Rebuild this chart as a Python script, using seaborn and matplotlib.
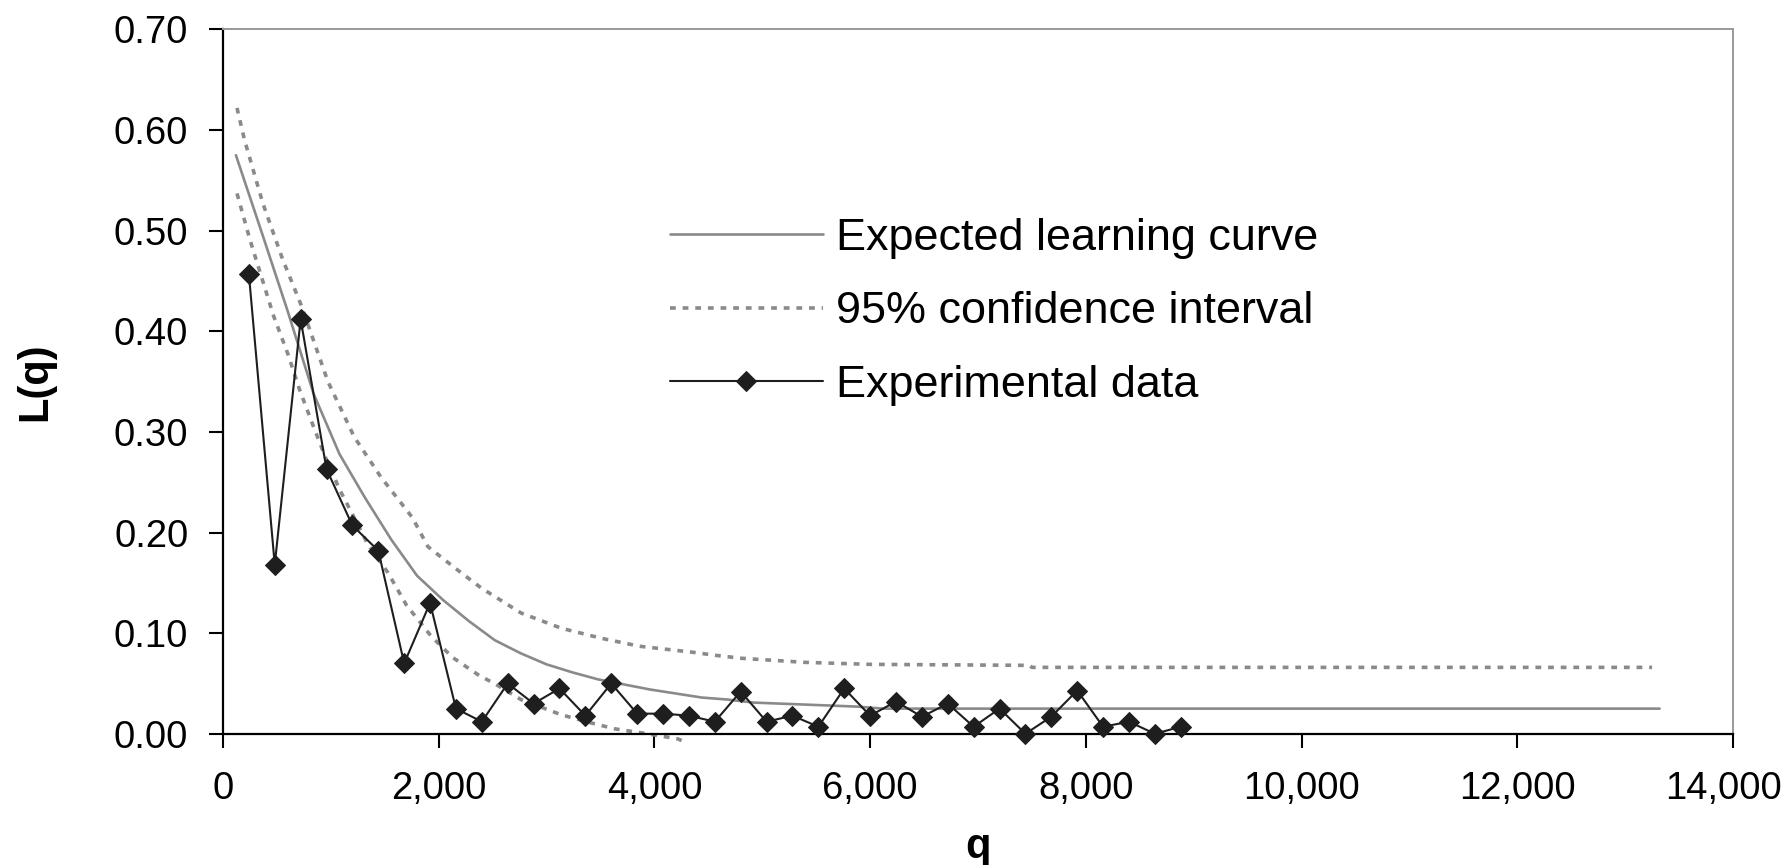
import matplotlib
matplotlib.use("Agg")
import matplotlib.pyplot as plt
from matplotlib.ticker import FuncFormatter
from matplotlib.transforms import ScaledTranslation
import seaborn as sns

# expected learning curve
q_exp = [120, 360, 600, 840, 1080, 1320, 1560, 1800, 2040, 2280, 2520, 2760,
         3000, 3240, 3480, 3720, 3960, 4200, 4440, 4680, 4920, 5160, 5400,
         5640, 5880, 6120, 13320]
L_exp = [0.575, 0.498, 0.420, 0.338, 0.278, 0.234, 0.193, 0.157, 0.133, 0.112,
         0.093, 0.080, 0.069, 0.061, 0.054, 0.049, 0.044, 0.040, 0.036, 0.034,
         0.031, 0.030, 0.029, 0.028, 0.027, 0.025, 0.025]

# 95% confidence interval, upper and lower bound
q_up = [130, 200, 370, 555, 725, 973, 1217, 1465, 1755, 1900, 2160, 2393,
        2764, 3134, 3504, 3861, 4109, 4357, 4563, 4811, 5100, 5390, 6000,
        7478, 7500, 13250]
L_up = [0.622, 0.590, 0.527, 0.471, 0.426, 0.350, 0.295, 0.255, 0.215, 0.186,
        0.164, 0.145, 0.120, 0.105, 0.095, 0.087, 0.084, 0.081, 0.078, 0.075,
        0.073, 0.071, 0.069, 0.068, 0.066, 0.066]

q_low = [130, 250, 470, 600, 710, 840, 960, 1080, 1340, 1530, 1700, 1930,
         2127, 2374, 2516, 2763, 3134, 3370, 3628, 3875, 4215, 4280]
L_low = [0.537, 0.491, 0.415, 0.378, 0.342, 0.305, 0.272, 0.243, 0.189, 0.160,
         0.128, 0.097, 0.076, 0.058, 0.050, 0.034, 0.019, 0.012, 0.005, 0.001,
         -0.005, -0.008]

# experimental data
q_data = [240, 480, 720, 960, 1200, 1440, 1680, 1920, 2160, 2400, 2640, 2880,
          3120, 3360, 3600, 3840, 4080, 4320, 4560, 4800, 5040, 5280, 5520,
          5760, 6000, 6240, 6480, 6720, 6960, 7200, 7440, 7680, 7920, 8160,
          8400, 8640, 8880]
L_data = [0.457, 0.168, 0.412, 0.263, 0.207, 0.182, 0.070, 0.130, 0.025, 0.012,
          0.050, 0.030, 0.045, 0.018, 0.050, 0.020, 0.020, 0.018, 0.012, 0.042,
          0.012, 0.018, 0.007, 0.045, 0.018, 0.032, 0.017, 0.030, 0.007, 0.025,
          0.000, 0.017, 0.043, 0.007, 0.012, 0.000, 0.007]

sns.set_style("ticks")
plt.rcParams['font.family'] = ['Liberation Sans', 'DejaVu Sans']
plt.rcParams['text.color'] = 'black'
plt.rcParams['axes.labelcolor'] = 'black'
plt.rcParams['xtick.color'] = 'black'
plt.rcParams['ytick.color'] = 'black'

fig = plt.figure(figsize=(17.91, 8.65), dpi=100)
ax = fig.add_axes([0.1245, 0.1517, 0.8431, 0.8143])

gray = '#8a8a8a'
ci_style = (0, (1.6, 1.9))

sns.lineplot(x=q_exp, y=L_exp, ax=ax, color=gray, linewidth=1.9,
             label='Expected learning curve', zorder=2)
sns.lineplot(x=q_up, y=L_up, ax=ax, color=gray, linewidth=2.6,
             linestyle=ci_style, label='95% confidence interval', zorder=2)
sns.lineplot(x=q_low, y=L_low, ax=ax, color=gray, linewidth=2.6,
             linestyle=ci_style, zorder=2, clip_on=False)
sns.lineplot(x=q_data, y=L_data, ax=ax, color='#1e1e1e', linewidth=1.5,
             marker='D', markersize=10, markeredgecolor='#1e1e1e',
             markerfacecolor='#1e1e1e', label='Experimental data',
             zorder=4, clip_on=False)

ax.set_xlim(0, 14000)
ax.set_ylim(0, 0.70)
ax.set_xticks(range(0, 14001, 2000))
ax.set_yticks([i / 10 for i in range(8)])
ax.xaxis.set_major_formatter(FuncFormatter(lambda v, p: f'{v:,.0f}'))
ax.yaxis.set_major_formatter(FuncFormatter(lambda v, p: f'{v:.2f}'))
ax.tick_params(axis='both', labelsize=27.5, length=10, width=1.5,
               color='black', labelcolor='black')
ax.tick_params(axis='x', pad=17)
ax.tick_params(axis='y', pad=15)

# last x label sits a little inside the figure edge, as in the original
last = ax.get_xticklabels()[-1]
last.set_transform(last.get_transform()
                   + ScaledTranslation(-9 / 100, 0, fig.dpi_scale_trans))

for s in ['left', 'bottom']:
    ax.spines[s].set_color('black')
    ax.spines[s].set_linewidth(1.6)
for s in ['top', 'right']:
    ax.spines[s].set_color('#999999')
    ax.spines[s].set_linewidth(1.4)

ax.set_xlabel('q', fontsize=30, fontweight='bold', labelpad=14)
ax.set_ylabel('L(q)', fontsize=30, fontweight='bold', labelpad=42)

handles, labels = ax.get_legend_handles_labels()
ax.legend(handles, labels, loc='upper left', bbox_to_anchor=(0.2840, 0.758),
          frameon=False, fontsize=32.4, handlelength=3.4, handletextpad=0.3,
          labelspacing=0.72, borderaxespad=0, labelcolor='black')

fig.savefig('out.png', dpi=100)
